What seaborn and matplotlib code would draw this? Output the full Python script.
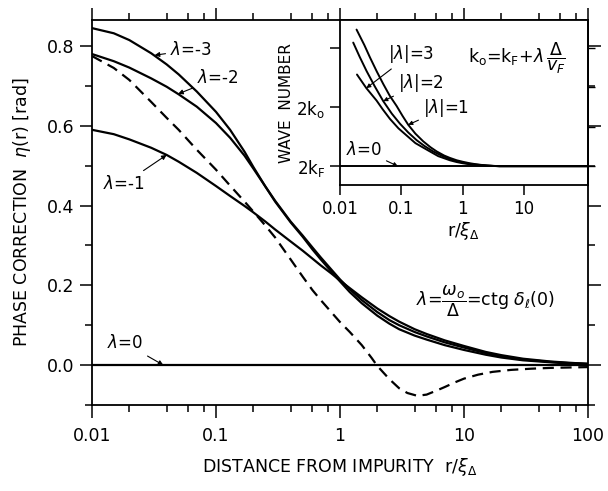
import numpy as np
import pandas as pd
import matplotlib
matplotlib.use("Agg")
import matplotlib.pyplot as plt
import matplotlib.ticker as mticker
import seaborn as sns

# ---------------- data ----------------
r_main = [0.01, 0.015, 0.02, 0.03, 0.04, 0.05, 0.07, 0.1, 0.13, 0.17, 0.2, 0.25, 0.3,
          0.4, 0.5, 0.6, 0.7, 0.85, 1, 1.2, 1.5, 2, 2.5, 3, 4, 5, 7, 10, 15, 20, 30,
          50, 70, 100]
eta_m3 = [0.845, 0.832, 0.815, 0.782, 0.754, 0.729, 0.686, 0.635, 0.59, 0.535, 0.497,
          0.448, 0.41, 0.358, 0.322, 0.29, 0.265, 0.235, 0.21, 0.183, 0.155, 0.124,
          0.104, 0.09, 0.074, 0.064, 0.05, 0.038, 0.026, 0.019, 0.012, 0.007, 0.004, 0.003]
eta_m2 = [0.78, 0.762, 0.746, 0.719, 0.698, 0.679, 0.648, 0.607, 0.57, 0.525, 0.493,
          0.448, 0.412, 0.36, 0.325, 0.295, 0.27, 0.24, 0.215, 0.19, 0.163, 0.133,
          0.113, 0.1, 0.083, 0.072, 0.057, 0.044, 0.03, 0.022, 0.014, 0.008, 0.005, 0.003]
eta_m1 = [0.59, 0.579, 0.566, 0.545, 0.527, 0.510, 0.482, 0.449, 0.424, 0.399, 0.383,
          0.36, 0.34, 0.31, 0.287, 0.267, 0.25, 0.23, 0.212, 0.193, 0.17, 0.142,
          0.123, 0.109, 0.09, 0.078, 0.062, 0.048, 0.033, 0.025, 0.016, 0.009, 0.006, 0.003]
eta_0 = [0.0] * len(r_main)

r_dash = [0.01, 0.015, 0.02, 0.03, 0.04, 0.05, 0.07, 0.1, 0.13, 0.17, 0.2, 0.25, 0.3,
          0.4, 0.5, 0.6, 0.7, 0.85, 1, 1.2, 1.5, 1.8, 2, 2.5, 3, 3.5, 4.2, 5, 6, 7,
          8.5, 10, 13, 17, 24, 35, 50, 100]
eta_dash = [0.775, 0.745, 0.715, 0.66, 0.62, 0.59, 0.54, 0.49, 0.45, 0.41, 0.385,
            0.35, 0.32, 0.265, 0.222, 0.188, 0.163, 0.133, 0.108, 0.083, 0.05, 0.018,
            -0.002, -0.035, -0.058, -0.07, -0.077, -0.074, -0.064, -0.055, -0.043,
            -0.034, -0.024, -0.017, -0.012, -0.009, -0.007, -0.005]

# inset: wave number (2kF = 0, 2ko = 1)
r_l1 = [0.0187, 0.025, 0.0309, 0.04, 0.0509, 0.065, 0.0838, 0.105, 0.13, 0.17, 0.228,
        0.3, 0.377, 0.5, 0.62, 0.8, 1.0, 1.3, 1.6, 2, 2.5, 3.2, 4, 110]
k_l1 = [2.31, 2.05, 1.84, 1.60, 1.39, 1.19, 1.02, 0.85, 0.70, 0.55, 0.42, 0.32, 0.25,
        0.18, 0.14, 0.10, 0.075, 0.05, 0.035, 0.022, 0.012, 0.005, 0.0, 0.0]
r_l2 = [0.0165, 0.021, 0.0272, 0.037, 0.0509, 0.07, 0.095, 0.13, 0.178, 0.24, 0.33,
        0.45, 0.62, 0.8, 1.0, 1.3, 1.6, 2, 2.5, 3.2, 4, 110]
k_l2 = [2.09, 1.85, 1.61, 1.35, 1.10, 0.89, 0.72, 0.57, 0.44, 0.34, 0.25, 0.18, 0.12,
        0.085, 0.06, 0.04, 0.028, 0.018, 0.01, 0.004, 0.0, 0.0]
r_l3 = [0.019, 0.027, 0.0396, 0.05, 0.0654, 0.09, 0.122, 0.17, 0.26, 0.4, 0.62, 0.8,
        1.0, 1.3, 1.6, 2, 2.5, 3.2, 4, 110]
k_l3 = [1.55, 1.32, 1.11, 0.96, 0.80, 0.64, 0.52, 0.39, 0.28, 0.17, 0.10, 0.07, 0.05,
        0.033, 0.022, 0.014, 0.008, 0.003, 0.0, 0.0]
r_k0 = [0.01, 110]
k_k0 = [0.0, 0.0]

main_xticks = [0.01, 0.1, 1, 10, 100]
main_xticklabels = ["0.01", "0.1", "1", "10", "100"]
main_yticks = [0.0, 0.2, 0.4, 0.6, 0.8]
main_yticklabels = ["0.0", "0.2", "0.4", "0.6", "0.8"]
inset_xticks = [0.01, 0.1, 1, 10]
inset_xticklabels = ["0.01", "0.1", "1", "10"]
inset_yticks = [0, 1, 2]
inset_yticklabels = [r"2k$_\mathrm{F}$", r"2k$_\mathrm{o}$", ""]

# ---------------- style ----------------
sns.set_style("ticks")
plt.rcParams["font.family"] = ["DejaVu Sans"]
plt.rcParams["mathtext.fontset"] = "dejavusans"
plt.rcParams["axes.linewidth"] = 1.3
for k in ("text.color", "axes.labelcolor", "xtick.color", "ytick.color", "axes.edgecolor"):
    plt.rcParams[k] = "black"

fig = plt.figure(figsize=(6.08, 4.91), dpi=100)
ax = fig.add_axes([0.1513, 0.1752, 0.8157, 0.7838])

LW = 1.6
for yy in (eta_m3, eta_m2, eta_m1, eta_0):
    sns.lineplot(x=r_main, y=yy, ax=ax, color="black", lw=LW, estimator=None, sort=False)
sns.lineplot(x=r_dash, y=eta_dash, ax=ax, color="black", lw=LW, estimator=None,
             sort=False, dashes=False, linestyle=(0, (5, 3)))

ax.set_xscale("log")
ax.set_xlim(0.01, 100)
ax.set_ylim(-0.1, 0.865)
ax.set_xticks(main_xticks)
ax.set_xticklabels(main_xticklabels)
ax.xaxis.set_minor_locator(mticker.LogLocator(base=10, subs=[2, 4, 6, 8]))
ax.xaxis.set_minor_formatter(mticker.NullFormatter())
ax.set_yticks(main_yticks)
ax.set_yticklabels(main_yticklabels)
ax.yaxis.set_minor_locator(mticker.MultipleLocator(0.1))
ax.tick_params(which="both", direction="out", top=True, right=True, labelsize=12.5, width=1.1)
ax.tick_params(which="major", length=9)
ax.tick_params(which="minor", length=5)
ax.tick_params(axis="x", pad=7)
for s in ax.spines.values():
    s.set_visible(True)

ax.set_xlabel(r"DISTANCE FROM IMPURITY  r/$\xi_\Delta$", fontsize=12.5, labelpad=8)
ax.set_ylabel(r"PHASE CORRECTION  $\eta$(r) [rad]", fontsize=12.5, labelpad=10)

arw = dict(arrowstyle="-|>", lw=0.8, color="black", mutation_scale=7, shrinkA=1, shrinkB=0)
ax.annotate(r"$\lambda$=-3", xy=(0.032, 0.777), xytext=(0.0427, 0.79), fontsize=12,
            ha="left", va="center", arrowprops=arw)
ax.annotate(r"$\lambda$=-2", xy=(0.0495, 0.68), xytext=(0.0705, 0.72), fontsize=12,
            ha="left", va="center", arrowprops=arw)
ax.annotate(r"$\lambda$=-1", xy=(0.04, 0.527), xytext=(0.0268, 0.455), fontsize=12,
            ha="right", va="center", arrowprops=arw)
ax.annotate(r"$\lambda$=0", xy=(0.0376, 0.0), xytext=(0.0258, 0.055), fontsize=12,
            ha="right", va="center", arrowprops=arw)
ax.text(15, 0.16, r"$\lambda$=$\dfrac{\omega_o}{\Delta}$=ctg $\delta_\ell$(0)",
        fontsize=12.5, ha="center", va="center")

# ---------------- inset ----------------
ins = fig.add_axes([0.559, 0.623, 0.408, 0.336])
ins.set_facecolor("white")
for xx, yy in ((r_l1, k_l1), (r_l2, k_l2), (r_l3, k_l3), (r_k0, k_k0)):
    sns.lineplot(x=xx, y=yy, ax=ins, color="black", lw=1.4, estimator=None, sort=False)
ins.set_xscale("log")
ins.set_xlim(0.01, 110)
ins.set_ylim(-0.32, 2.47)
ins.set_xticks(inset_xticks)
ins.set_xticklabels(inset_xticklabels)
ins.xaxis.set_minor_locator(mticker.NullLocator())
ins.set_yticks(inset_yticks)
ins.set_yticklabels(inset_yticklabels)
ins.tick_params(which="both", direction="out", labelsize=12, length=7, width=1.1)
sec = ins.secondary_yaxis("right")
sec.set_yticks([0, 2 / 3, 4 / 3, 2])
sec.set_yticklabels([])
sec.tick_params(direction="out", length=5, width=1.0)
for s in ins.spines.values():
    s.set_linewidth(1.3)
ins.set_xlabel(r"r/$\xi_\Delta$", fontsize=12.5, labelpad=2)
ins.set_ylabel("WAVE  NUMBER", fontsize=11, labelpad=2)

arw2 = dict(arrowstyle="-|>", lw=0.8, color="black", mutation_scale=6, shrinkA=1, shrinkB=0)
ins.annotate(r"|$\lambda$|=3", xy=(0.027, 1.32), xytext=(0.0606, 1.90), fontsize=12,
             ha="left", va="center", arrowprops=arw2)
ins.annotate(r"|$\lambda$|=2", xy=(0.0509, 1.10), xytext=(0.0884, 1.41), fontsize=12,
             ha="left", va="center", arrowprops=arw2)
ins.annotate(r"|$\lambda$|=1", xy=(0.13, 0.70), xytext=(0.226, 0.99), fontsize=12,
             ha="left", va="center", arrowprops=arw2)
ins.annotate(r"$\lambda$=0", xy=(0.088, 0.0), xytext=(0.0484, 0.27), fontsize=12,
             ha="right", va="center", arrowprops=arw2)
ins.text(7.7, 1.82, r"k$_\mathrm{o}$=k$_\mathrm{F}$+$\lambda\,\dfrac{\Delta}{v_F}$",
         fontsize=12.5, ha="center", va="center")

fig.savefig("out.png", dpi=100)
